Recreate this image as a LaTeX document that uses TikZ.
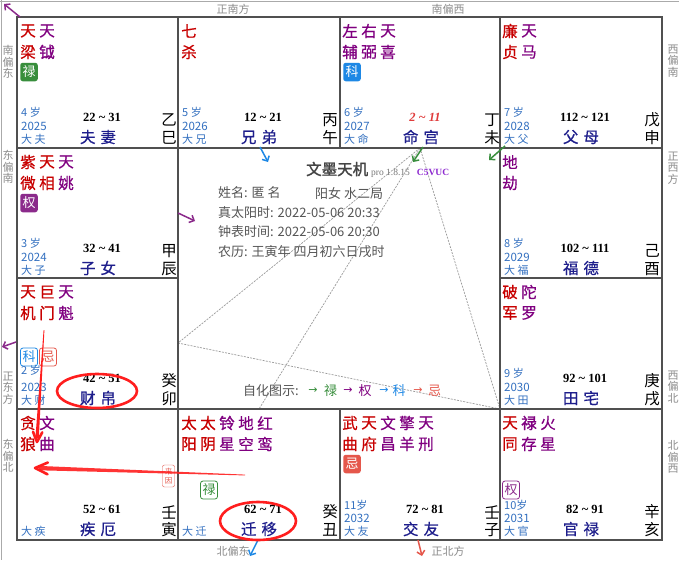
\documentclass[tikz,border=0pt]{standalone}
\usepackage{fontspec}
\setmainfont{Liberation Serif}
\newfontfamily\cjk{Noto Sans CJK SC}
\newfontfamily\cjkb[FakeBold=1.6]{Noto Sans CJK SC}
\newfontfamily\cjkm[FakeBold=0.6]{Noto Sans CJK SC}
\newfontfamily\dv{DejaVu Sans}
\usetikzlibrary{arrows.meta}
\definecolor{sred}{HTML}{C80000}
\definecolor{spur}{HTML}{800080}
\definecolor{pnavy}{HTML}{1E1E8C}
\definecolor{sblue}{HTML}{3370C0}
\definecolor{bgreen}{HTML}{388E3C}
\definecolor{bblue}{HTML}{1E88E5}
\definecolor{bpur}{HTML}{8B2A8B}
\definecolor{bred}{HTML}{E5574B}
\definecolor{gridgray}{HTML}{505050}
\definecolor{framegray}{HTML}{AAAAAA}
\definecolor{dirgray}{HTML}{8C8C8C}
\definecolor{infogray}{HTML}{555555}
\definecolor{titlegray}{HTML}{444444}
\definecolor{progray}{HTML}{777777}
\definecolor{cfive}{HTML}{8E2BD0}
\definecolor{lgray}{HTML}{9A9A9A}
\definecolor{annred}{HTML}{FF1E1E}
\definecolor{rngred}{HTML}{E03C3C}
\tikzset{
  sc/.style={inner sep=0pt, font=\cjkm\fontsize{15.5}{15.5}\selectfont},
  fbadge/.style={rounded corners=2.5pt, minimum width=17.5pt, minimum height=18.5pt, inner sep=0pt, text=white, font=\cjk\fontsize{13}{13}\selectfont},
  obadge/.style={rounded corners=2.5pt, minimum width=17pt, minimum height=18pt, inner sep=0pt, fill=white, line width=0.8pt, font=\cjk\fontsize{13}{13}\selectfont},
  agetxt/.style={inner sep=0pt, anchor=west, text=sblue, font=\cjk\fontsize{11}{11}\selectfont},
  yeartxt/.style={inner sep=0pt, anchor=west, text=sblue, font=\cjk\fontsize{11.5}{11.5}\selectfont},
  rangetxt/.style={inner sep=0pt, font=\bfseries\fontsize{12.5}{12.5}\selectfont},
  pname/.style={inner sep=0pt, text=pnavy, font=\cjkm\fontsize{15.5}{15.5}\selectfont},
  gz/.style={inner sep=0pt, font=\cjk\fontsize{15.5}{15.5}\selectfont},
  dirt/.style={inner sep=0pt, text=dirgray, align=center, font=\cjk\fontsize{11}{11.5}\selectfont},
  info/.style={inner sep=0pt, anchor=west, text=infogray, font=\cjk\fontsize{13}{13}\selectfont},
  legend/.style={inner sep=0pt, font=\cjk\fontsize{13}{13}\selectfont},
  legarrow/.style={inner sep=0pt, font=\dv\fontsize{11}{11}\selectfont},
  gridline/.style={draw=gridgray, line width=2.2pt},
  sarrow/.style={line width=1.5pt, -{Straight Barb[length=4pt,width=8pt]}},
  triline/.style={draw=lgray, line width=0.7pt, dash pattern=on 2pt off 1.2pt},
  annot/.style={draw=annred, line width=2.6pt},
}
\newcommand\stp[6]{\node[sc,text=#3] (#1a) at (#2,14) {#4};\node[sc,text=#5] (#1b) at (#2,35) {#6};}
\newcommand\pbot[9]{%
 \node[agetxt] (#1age) at (4,#2) {#3};
 \node[yeartxt] (#1yr) at (4,109) {#4};
 \node[agetxt] (#1da) at (4,122) {#5};
 \node[rangetxt] (#1rg) at (85,100) {#6};
 \node[pname] (#1pn) at (81,120) {#7};
 \node[gz] (#1st) at (152,103) {#8};
 \node[gz] (#1br) at (152,121) {#9};}
\newcommand\pbotb[6]{%
 \node[agetxt] (#1da) at (4,122) {#2};
 \node[rangetxt] (#1rg) at (85,100) {#3};
 \node[pname] (#1pn) at (81,120) {#4};
 \node[gz] (#1st) at (152,103) {#5};
 \node[gz] (#1br) at (152,121) {#6};}
\newcommand\tld{\textasciitilde}
\begin{document}
\begin{tikzpicture}[x=1pt,y=-1pt]
\useasboundingbox (0,0) rectangle (679,560);
\fill[white] (0,0) rectangle (679,560);
\draw[framegray, line width=1pt] (0,1) -- (679,1);
\draw[framegray, line width=1pt] (1,0) -- (1,560);

% dashed san-fang-si-zheng lines
\coordinate (tA) at (420,148);
\coordinate (tB) at (178,343);
\coordinate (tC) at (259,409);
\coordinate (tD) at (500,409);
\draw[triline] (tA) -- (tB);
\draw[triline] (tA) -- (tC);
\draw[triline] (tA) -- (tD);
\draw[triline] (tB) -- (tD);

% grid
\draw[gridline] (17,17) rectangle (662,540);
\draw[gridline] (17,148) -- (662,148);
\draw[gridline] (17,409) -- (662,409);
\draw[gridline] (17,278) -- (178,278);
\draw[gridline] (500,278) -- (662,278);
\draw[gridline] (178,17) -- (178,540);
\draw[gridline] (500,17) -- (500,540);
\draw[gridline] (340,17) -- (340,148);
\draw[gridline] (340,409) -- (340,540);

% P1 si
\begin{scope}[shift={(17,17)}]
\stp{pa1}{11}{sred}{天}{sred}{梁}
\stp{pa2}{30}{spur}{天}{spur}{{\cjkb 钺}}
\node[fbadge, fill=bgreen] (pab) at (12,55) {禄};
\pbot{pa}{95}{4 岁}{2025}{大 夫}{22 \tld\ 31}{夫\hspace{5pt}妻}{乙}{巳}
\end{scope}
% P2 wu
\begin{scope}[shift={(178,17)}]
\stp{pb1}{11}{sred}{七}{sred}{杀}
\pbot{pb}{95}{5 岁}{2026}{大 兄}{12 \tld\ 21}{兄\hspace{5pt}弟}{丙}{午}
\end{scope}
% P3 wei
\begin{scope}[shift={(340,17)}]
\stp{pc1}{10}{spur}{左}{spur}{{\cjkb 辅}}
\stp{pc2}{29}{spur}{右}{spur}{弼}
\stp{pc3}{48}{spur}{天}{spur}{喜}
\node[fbadge, fill=bblue] (pcb) at (12,55) {科};
\pbot{pc}{95}{6 岁}{2027}{大 命}{\color{rngred}\itshape 2 \tld\ 11}{命\hspace{5pt}宫}{丁}{未}
\end{scope}
% P4 shen
\begin{scope}[shift={(500,17)}]
\stp{pd1}{10}{sred}{廉}{sred}{贞}
\stp{pd2}{29}{spur}{天}{spur}{马}
\pbot{pd}{95}{7 岁}{2028}{大 父}{112 \tld\ 121}{父\hspace{5pt}母}{戊}{申}
\end{scope}
% P5 chen
\begin{scope}[shift={(17,148)}]
\stp{pe1}{11}{sred}{紫}{sred}{微}
\stp{pe2}{30}{sred}{天}{sred}{相}
\stp{pe3}{49}{spur}{天}{spur}{姚}
\node[fbadge, fill=bpur] (peb) at (12,55) {权};
\pbot{pe}{95}{3 岁}{2024}{大 子}{32 \tld\ 41}{子\hspace{5pt}女}{甲}{辰}
\end{scope}
% P6 you
\begin{scope}[shift={(500,148)}]
\stp{pf1}{10}{spur}{地}{spur}{劫}
\pbot{pf}{95}{8 岁}{2029}{大 福}{102 \tld\ 111}{福\hspace{5pt}德}{己}{酉}
\end{scope}
% P7 mao
\begin{scope}[shift={(17,278)}]
\stp{pg1}{11}{sred}{天}{sred}{机}
\stp{pg2}{30}{sred}{巨}{sred}{{\cjkb 门}}
\stp{pg3}{49}{spur}{天}{spur}{魁}
\node[obadge, draw=bblue, text=bblue] (pgb1) at (12,79) {科};
\node[obadge, draw=bred, text=bred] (pgb2) at (31,79) {忌};
\pbot{pg}{92}{2 岁}{2023}{大 财}{42 \tld\ 51}{{\cjkb 财}\hspace{5pt}帛}{癸}{卯}
\end{scope}
% P8 xu
\begin{scope}[shift={(500,278)}]
\stp{ph1}{10}{sred}{破}{sred}{军}
\stp{ph2}{29}{spur}{陀}{spur}{罗}
\pbot{ph}{95}{9 岁}{2030}{大 田}{92 \tld\ 101}{田\hspace{5pt}宅}{庚}{戌}
\end{scope}
% P9 yin
\begin{scope}[shift={(17,409)}]
\stp{pi1}{11}{sred}{贪}{sred}{狼}
\stp{pi2}{30}{spur}{文}{spur}{曲}
\node[draw=bred, rounded corners=2pt, fill=white, minimum width=12pt, minimum height=22pt, inner sep=0pt, text=bred, align=center, font=\cjk\fontsize{7.5}{9}\selectfont] (stamp) at (151.5,67) {来\\因};
\pbotb{pi}{大 疾}{52 \tld\ 61}{疾\hspace{5pt}厄}{壬}{寅}
\end{scope}
% P10 chou
\begin{scope}[shift={(178,409)}]
\stp{pj1}{11}{sred}{太}{sred}{{\cjkb 阳}}
\stp{pj2}{30}{sred}{太}{sred}{{\cjkb 阴}}
\stp{pj3}{49}{spur}{{\cjkb 铃}}{spur}{星}
\stp{pj4}{68}{spur}{地}{spur}{空}
\stp{pj5}{87}{spur}{红}{spur}{鸾}
\node[obadge, draw=bgreen, text=bgreen] (pjb) at (31,81) {禄};
\pbotb{pj}{大 迁}{62 \tld\ 71}{迁\hspace{5pt}移}{癸}{丑}
\end{scope}
% P11 zi
\begin{scope}[shift={(340,409)}]
\stp{pk1}{10}{sred}{武}{sred}{曲}
\stp{pk2}{29}{sred}{天}{sred}{府}
\stp{pk3}{48}{spur}{文}{spur}{昌}
\stp{pk4}{67}{spur}{擎}{spur}{羊}
\stp{pk5}{86}{spur}{天}{spur}{刑}
\node[fbadge, fill=bred] (pkb) at (12,55) {忌};
\pbot{pk}{96}{11岁}{2032}{大 友}{72 \tld\ 81}{交\hspace{5pt}友}{壬}{子}
\end{scope}
% P12 hai
\begin{scope}[shift={(500,409)}]
\stp{pl1}{10}{sred}{天}{sred}{同}
\stp{pl2}{29}{spur}{{\cjkb 禄}}{spur}{存}
\stp{pl3}{48}{spur}{火}{spur}{星}
\node[obadge, draw=bpur, text=bpur] (plb) at (11,81) {权};
\pbot{pl}{96}{10岁}{2031}{大 官}{82 \tld\ 91}{官\hspace{5pt}禄}{辛}{亥}
\end{scope}

% centre information
\node[inner sep=0pt, anchor=base west] (title) at (306,175) {{\cjkb\fontsize{15.5}{15.5}\selectfont\color{titlegray}文墨天机}\hspace{3pt}{\fontsize{9.5}{9.5}\selectfont\color{progray}pro 1.8.15}\hspace{7pt}{\bfseries\fontsize{9.5}{9.5}\selectfont\color{cfive}C5VUC}};
\node[info] (i1) at (218,193) {姓名: 匿 名};
\node[info] (i1b) at (315,193) {阳女 水二局};
\node[info] (i2) at (218,213) {真太阳时: 2022-05-06 20:33};
\node[info] (i3) at (218,232) {钟表时间: 2022-05-06 20:30};
\node[info] (i4) at (218,252) {农历: 王寅年 四月初六日戌时};
\node[info] (lg0) at (243,391) {自化图示:};
\node[legarrow, text=bgreen] (lg1) at (313,391) {→};
\node[legend, text=bgreen] (lg2) at (330.5,391) {禄};
\node[legarrow, text=spur] (lg3) at (348,391) {→};
\node[legend, text=spur] (lg4) at (365,391) {权};
\node[legarrow, text=bblue] (lg5) at (384,391) {→};
\node[legend, text=bblue] (lg6) at (399,391) {科};
\node[legarrow, text=bred] (lg7) at (418,391) {→};
\node[legend, text=bred] (lg8) at (434.5,391) {忌};

% direction labels
\node[dirt] (d1) at (233,9) {正南方};
\node[dirt] (d2) at (448,9) {南偏西};
\node[dirt] (d3) at (233,551) {北偏东};
\node[dirt] (d4) at (448,551) {正北方};
\node[dirt] (d5) at (8,62) {南\\偏\\东};
\node[dirt] (d6) at (8,167) {东\\偏\\南};
\node[dirt] (d7) at (8,388) {正\\东\\方};
\node[dirt] (d8) at (8,456) {东\\偏\\北};
\node[dirt] (d9) at (673,61) {西\\偏\\南};
\node[dirt] (d10) at (673,168) {正\\西\\方};
\node[dirt] (d11) at (673,387) {西\\偏\\北};
\node[dirt] (d12) at (673,457) {北\\偏\\西};

% small transformation arrows
\coordinate (a1s) at (20,17); \coordinate (a1e) at (4,4);
\coordinate (a2s) at (260,147); \coordinate (a2e) at (268,162);
\coordinate (a3s) at (423,147); \coordinate (a3e) at (413,162);
\coordinate (a4s) at (505,146); \coordinate (a4e) at (489,160);
\coordinate (a5s) at (178,213); \coordinate (a5e) at (195,221);
\coordinate (a6s) at (16,342); \coordinate (a6e) at (2,347);
\coordinate (a7s) at (258,540); \coordinate (a7e) at (250,556);
\coordinate (a8s) at (418,540); \coordinate (a8e) at (422,556);
\draw[sarrow, bpur] (a1s) -- (a1e);
\draw[sarrow, bblue] (a2s) -- (a2e);
\draw[sarrow, bgreen] (a3s) -- (a3e);
\draw[sarrow, bgreen] (a4s) -- (a4e);
\draw[sarrow, bpur] (a5s) -- (a5e);
\draw[sarrow, bpur] (a6s) -- (a6e);
\draw[sarrow, bblue] (a7s) -- (a7e);
\draw[sarrow, bred] (a8s) -- (a8e);

% hand-drawn red annotations
\draw[annot] (97,391) ellipse [x radius=40pt, y radius=17pt];
\draw[annot] (258,521) ellipse [x radius=38pt, y radius=19pt];
\coordinate (v1) at (44,330); \coordinate (vt) at (37,442);
\fill[annred] (43.6,330) -- (44.4,330) -- (38.8,438) -- (35.4,438) -- cycle;
\draw[annred, line width=2.6pt, line cap=round, line join=round] (42.3,432.3) -- (vt) -- (33,431.8);
\coordinate (h1) at (245,475); \coordinate (ht) at (35,468);
\fill[annred, opacity=0.9] (245,474.6) -- (245,475.4) -- (39,470.3) -- (39,465.9) -- cycle;
\draw[annred, line width=2.6pt, line cap=round, line join=round] (47.5,474.3) -- (ht) -- (47.9,462.5);
\end{tikzpicture}
\end{document}
